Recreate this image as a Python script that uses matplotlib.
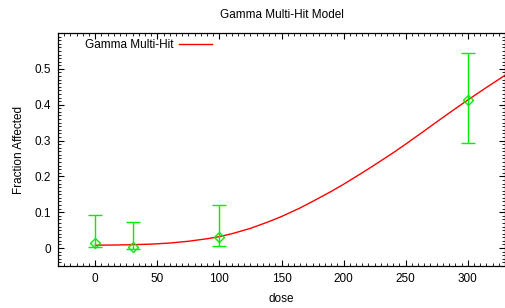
import matplotlib.pyplot as plt
from matplotlib.ticker import MultipleLocator

plt.rcParams['font.family'] = ['Liberation Sans', 'DejaVu Sans']

# observed points with error bars
dose = [0, 30, 100, 300]
frac = [0.015, 0.002, 0.032, 0.413]
err_lo = [0.002, -0.003, 0.006, 0.292]
err_hi = [0.093, 0.073, 0.121, 0.545]

# fitted model curve
fit_dose = [0, 15, 30, 45, 60, 75, 90, 100, 110, 125, 140, 150, 165, 175, 190,
            200, 215, 225, 240, 250, 265, 275, 290, 300, 315, 330]
fit_frac = [0.008, 0.0085, 0.0095, 0.011, 0.014, 0.019, 0.026, 0.032, 0.040,
            0.055, 0.074, 0.088, 0.112, 0.130, 0.158, 0.178, 0.210, 0.232,
            0.266, 0.290, 0.327, 0.352, 0.389, 0.413, 0.448, 0.482]

fs = 8.5
fig = plt.figure(figsize=(5.06, 3.08), dpi=100)
ax = fig.add_axes([58 / 506, 42 / 308, 447 / 506, 233 / 308])

ax.plot(fit_dose, fit_frac, color='red', lw=1, label='Gamma Multi-Hit')
yerr = [[f - lo for f, lo in zip(frac, err_lo)], [hi - f for f, hi in zip(frac, err_hi)]]
ax.errorbar(dose, frac, yerr=yerr, fmt='D', mfc='none', mec='#00ee00', ms=5,
            mew=1, ecolor='#00ee00', elinewidth=1, capsize=5, capthick=1)

ax.set_xlim(-30, 330)
ax.set_ylim(-0.05, 0.6)
ax.xaxis.set_major_locator(MultipleLocator(50))
ax.xaxis.set_minor_locator(MultipleLocator(5))
ax.yaxis.set_minor_locator(MultipleLocator(0.01))
ax.set_yticks([0, 0.1, 0.2, 0.3, 0.4, 0.5])
ax.set_yticklabels(['0', '0.1', '0.2', '0.3', '0.4', '0.5'])
ax.tick_params(which='both', direction='in', top=True, right=True, labelsize=fs, colors='black')
ax.tick_params(which='major', length=4, width=0.8, pad=5)
ax.tick_params(which='minor', length=2, width=0.6)
for s in ax.spines.values():
    s.set_linewidth(0.9)

ax.set_title('Gamma Multi-Hit Model', fontsize=fs, pad=11)
ax.set_xlabel('dose', fontsize=fs, labelpad=6)
ax.set_ylabel('Fraction Affected', fontsize=fs, labelpad=7)

ax.legend(loc='upper left', bbox_to_anchor=(0.045, 1.0), frameon=False, fontsize=fs,
          markerfirst=False, handlelength=2.8, handletextpad=0.5, borderaxespad=0.15)

fig.savefig('out.png', dpi=100)
